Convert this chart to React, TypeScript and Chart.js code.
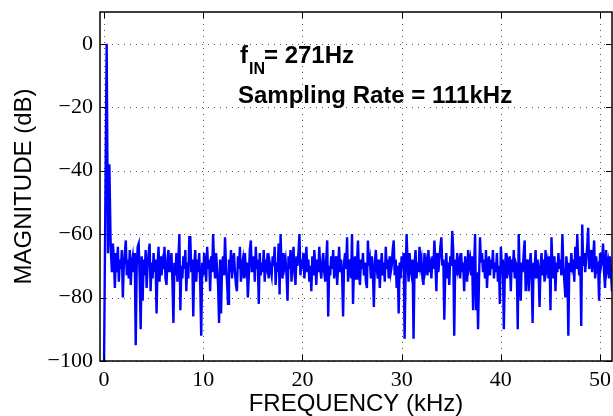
import { useEffect, useRef } from "react";
import { Chart, registerables } from "chart.js";

Chart.register(...registerables);

// Fundamental (271 Hz) and its 2nd harmonic (kHz, dB)
const peakFreqs = [0, 0.271, 0.406, 0.542, 0.677, 0.8, 0.9];
const peakMags = [-104, 0, -66, -38, -64, -72, -63];

// Noise floor: evenly spaced FFT bins starting at 1.0 kHz, 0.1 kHz apart (dB)
const noiseStartKHz = 1.0;
const noiseStepKHz = 0.1;
const noiseMags = [
  -68, -77, -66, -72, -64, -75, -68, -71, -65, -80,
  -70, -66, -62, -73, -68, -74, -65, -76, -69, -67,
  -72, -66, -95, -70, -64, -63, -74, -90, -67, -81,
  -68, -73, -65, -77, -70, -66, -63, -78, -69, -74,
  -66, -72, -68, -85, -70, -64, -75, -67, -73, -69,
  -71, -64, -74, -76, -68, -65, -72, -70, -66, -75,
  -88, -69, -73, -66, -75, -68, -60, -84, -70, -74,
  -67, -71, -65, -78, -69, -74, -61, -61, -72, -68,
  -86, -70, -65, -75, -68, -72, -66, -76, -92, -69,
  -73, -66, -70, -75, -64, -71, -68, -78, -67, -72,
  -60, -69, -74, -66, -71, -76, -88, -68, -85, -70,
  -67, -73, -61, -70, -75, -82, -68, -72, -65, -74,
  -69, -66, -72, -76, -78, -67, -71, -64, -75, -70,
  -68, -74, -66, -71, -69, -80, -73, -65, -62, -72,
  -70, -67, -75, -64, -71, -68, -82, -66, -73, -69,
  -72, -65, -75, -68, -70, -66, -74, -69, -71, -73,
  -67, -70, -64, -76, -69, -72, -63, -79, -60, -71,
  -74, -66, -70, -68, -73, -81, -67, -71, -65, -75,
  -69, -64, -72, -76, -67, -70, -66, -60, -73, -68,
  -71, -66, -74, -69, -64, -72, -68, -75, -70, -78,
  -67, -73, -65, -70, -76, -68, -72, -64, -71, -74,
  -69, -66, -72, -75, -68, -62, -86, -70, -73, -67,
  -71, -65, -74, -69, -67, -76, -70, -64, -72, -68,
  -73, -86, -69, -66, -71, -61, -75, -68, -70, -74,
  -60, -82, -70, -67, -74, -69, -62, -72, -76, -68,
  -71, -66, -73, -69, -75, -77, -62, -70, -68, -74,
  -67, -72, -83, -69, -65, -71, -74, -68, -77, -70,
  -66, -73, -69, -75, -64, -71, -68, -74, -67, -72,
  -70, -65, -62, -73, -68, -77, -70, -85, -69, -74,
  -67, -71, -66, -93, -72, -60, -69, -75, -66, -71,
  -73, -68, -93, -70, -65, -74, -69, -72, -64, -70,
  -68, -74, -76, -66, -71, -69, -73, -65, -72, -70,
  -74, -67, -71, -62, -69, -78, -66, -72, -68, -64,
  -61, -70, -68, -87, -72, -66, -74, -69, -76, -67,
  -70, -59, -65, -92, -68, -73, -66, -71, -69, -74,
  -66, -72, -69, -78, -67, -71, -75, -65, -70, -68,
  -73, -67, -84, -71, -60, -84, -72, -90, -74, -61,
  -69, -66, -72, -68, -74, -65, -77, -70, -67, -73,
  -68, -71, -65, -74, -69, -72, -66, -75, -70, -82,
  -64, -70, -68, -90, -72, -66, -74, -69, -71, -67,
  -78, -68, -72, -65, -74, -69, -70, -90, -60, -73,
  -81, -69, -72, -66, -62, -78, -70, -68, -78, -71,
  -66, -73, -88, -69, -71, -65, -74, -68, -72, -83,
  -70, -66, -73, -68, -75, -65, -71, -69, -74, -67,
  -84, -61, -70, -74, -67, -78, -69, -72, -66, -71,
  -68, -73, -60, -70, -75, -80, -67, -71, -92, -69,
  -72, -66, -70, -68, -75, -64, -71, -60, -69, -73,
  -67, -89, -57, -70, -66, -72, -68, -64, -58, -71,
  -69, -65, -72, -68, -62, -74, -67, -71, -70, -81,
  -66, -70, -68, -63, -72, -77, -65, -71, -69, -74,
  -67, -72, -78,
];

const xTicks = [0, 10, 20, 30, 40, 50];
const yTicks = [-100, -80, -60, -40, -20, 0];
const xTitle = "FREQUENCY (kHz)";
const yTitle = "MAGNITUDE (dB)";
const noteFreqMain = "f";
const noteFreqSub = "IN";
const noteFreqRest = "= 271Hz";
const noteRate = "Sampling Rate = 111kHz";

const decorPlugin = {
  id: "fftDecor",
  beforeDatasetsDraw(chart: any) {
    const { ctx, chartArea, scales } = chart;
    const { left, right, top, bottom } = chartArea;
    ctx.save();
    ctx.strokeStyle = "#555";
    ctx.lineWidth = 1;
    ctx.setLineDash([1, 5]);
    xTicks.forEach((v) => {
      const px = Math.round(scales.x.getPixelForValue(v)) + 0.5;
      ctx.beginPath();
      ctx.moveTo(px, top);
      ctx.lineTo(px, bottom);
      ctx.stroke();
    });
    yTicks.forEach((v) => {
      const py = Math.round(scales.y.getPixelForValue(v)) + 0.5;
      ctx.beginPath();
      ctx.moveTo(left, py);
      ctx.lineTo(right, py);
      ctx.stroke();
    });
    ctx.restore();
  },
  afterDatasetsDraw(chart: any) {
    const { ctx, chartArea, scales } = chart;
    const { left, right, top, bottom } = chartArea;
    ctx.save();
    ctx.setLineDash([]);
    ctx.strokeStyle = "#000";
    ctx.lineWidth = 1.5;
    ctx.strokeRect(left, top, right - left, bottom - top);
    const tl = 6;
    ctx.lineWidth = 1;
    xTicks.forEach((v) => {
      const px = Math.round(scales.x.getPixelForValue(v)) + 0.5;
      ctx.beginPath();
      ctx.moveTo(px, bottom);
      ctx.lineTo(px, bottom - tl);
      ctx.moveTo(px, top);
      ctx.lineTo(px, top + tl);
      ctx.stroke();
    });
    yTicks.forEach((v) => {
      const py = Math.round(scales.y.getPixelForValue(v)) + 0.5;
      ctx.beginPath();
      ctx.moveTo(left, py);
      ctx.lineTo(left + tl, py);
      ctx.moveTo(right, py);
      ctx.lineTo(right - tl, py);
      ctx.stroke();
    });
    // annotations
    ctx.fillStyle = "#000";
    ctx.textBaseline = "alphabetic";
    ctx.textAlign = "left";
    ctx.font = 'bold 24px "Liberation Sans", Arial, sans-serif';
    const x0 = 240;
    ctx.fillText(noteFreqMain, x0, 63);
    const fw = ctx.measureText(noteFreqMain).width;
    ctx.font = 'bold 16px "Liberation Sans", Arial, sans-serif';
    ctx.fillText(noteFreqSub, x0 + fw + 1, 74);
    const sw = ctx.measureText(noteFreqSub).width;
    ctx.font = 'bold 24px "Liberation Sans", Arial, sans-serif';
    ctx.fillText(noteFreqRest, x0 + fw + sw, 63);
    ctx.fillText(noteRate, 238, 103);
    ctx.restore();
  },
};

export default function App() {
  const canvasRef = useRef<HTMLCanvasElement | null>(null);

  useEffect(() => {
    const canvas = canvasRef.current;
    if (!canvas) return;
    const points = peakFreqs
      .map((f, i) => ({ x: f, y: peakMags[i] }))
      .concat(noiseMags.map((m, i) => ({ x: noiseStartKHz + i * noiseStepKHz, y: m })));

    const tickFont = { family: '"Liberation Serif", "Times New Roman", serif', size: 22 };
    const titleFont = { family: '"Liberation Sans", Arial, sans-serif', size: 24, lineHeight: 1 };

    const chart = new Chart(canvas, {
      type: "line",
      data: {
        datasets: [
          {
            data: points,
            borderColor: "#0000ff",
            borderWidth: 2.4,
            pointRadius: 0,
            tension: 0,
            fill: false,
          },
        ],
      },
      options: {
        animation: false,
        responsive: false,
        devicePixelRatio: 1,
        parsing: false as any,
        normalized: true,
        layout: { padding: { top: 12, right: 1, left: 0, bottom: 0 } },
        plugins: { legend: { display: false }, tooltip: { enabled: false }, title: { display: false } },
        scales: {
          x: {
            type: "linear",
            min: -0.4,
            max: 51.2,
            afterBuildTicks: (s: any) => {
              s.ticks = xTicks.map((v) => ({ value: v }));
            },
            afterFit: (s: any) => {
              s.height = 55;
              s.paddingLeft = 0;
              s.paddingRight = 0;
            },
            grid: { display: false, drawTicks: false },
            border: { display: false },
            ticks: {
              font: tickFont,
              color: "#000",
              padding: 6,
              maxRotation: 0,
              autoSkip: false,
              callback: (v: any) => String(v),
            },
            title: { display: true, text: xTitle, font: titleFont, color: "#000", padding: 0 },
          },
          y: {
            type: "linear",
            min: -100,
            max: 10,
            afterBuildTicks: (s: any) => {
              s.ticks = yTicks.map((v) => ({ value: v }));
            },
            afterFit: (s: any) => {
              s.width = 100;
              s.paddingTop = 0;
              s.paddingBottom = 0;
            },
            grid: { display: false, drawTicks: false },
            border: { display: false },
            ticks: {
              font: tickFont,
              color: "#000",
              padding: 7,
              autoSkip: false,
              callback: (v: any) => (v < 0 ? "\u2212" + Math.abs(v) : String(v)),
            },
            title: { display: true, text: yTitle, font: titleFont, color: "#000", padding: { top: 12, bottom: 0 } },
          },
        },
      },
      plugins: [decorPlugin],
    });
    return () => chart.destroy();
  }, []);

  return (
    <div style={{ position: "absolute", left: 0, top: 0, width: 613, height: 416, background: "#fff" }}>
      <canvas ref={canvasRef} width={613} height={416} style={{ display: "block" }} />
    </div>
  );
}
